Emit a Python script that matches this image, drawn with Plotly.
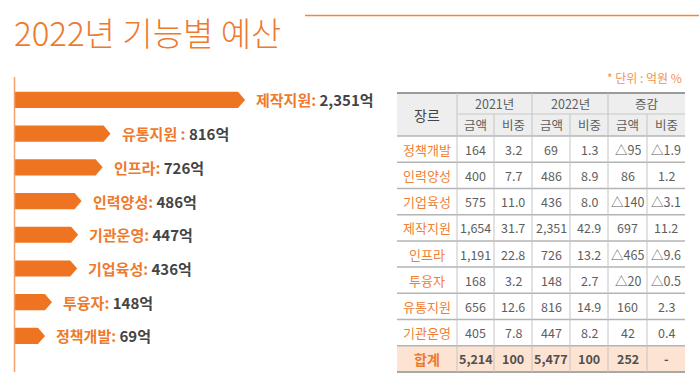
import plotly.graph_objects as go

W_PX, H_PX = 699, 383

# ---------------- data ----------------
title_text = "2022년 기능별 예산"
categories = ["제작지원", "유통지원", "인프라", "인력양성", "기관운영", "기업육성", "투융자", "정책개발"]
values = [2351, 816, 726, 486, 447, 436, 148, 69]
separators = [": ", " : ", ": ", ": ", ": ", ": ", ": ", ": "]
unit_suffix = "억"

unit_note = "* 단위 : 억원 %"
header_genre = "장르"
header_years = ["2021년", "2022년", "증감"]
header_sub = ["금액", "비중"]
table_rows = ["정책개발", "인력양성", "기업육성", "제작지원", "인프라", "투융자", "유통지원", "기관운영"]
amt_2021 = [164, 400, 575, 1654, 1191, 168, 656, 405]
share_2021 = [3.2, 7.7, 11.0, 31.7, 22.8, 3.2, 12.6, 7.8]
amt_2022 = [69, 486, 436, 2351, 726, 148, 816, 447]
share_2022 = [1.3, 8.9, 8.0, 42.9, 13.2, 2.7, 14.9, 8.2]
chg_amt = [-95, 86, -140, 697, -465, -20, 160, 42]
chg_share = [-1.9, 1.2, -3.1, 11.2, -9.6, -0.5, 2.3, 0.4]
total_label = "합계"
totals = ["5,214", "100", "5,477", "100", "252", "-"]

# ---------------- styles ----------------
ORANGE = "#EE7421"
ORANGE_TXT = "#EE7A2D"
ORANGE_LIGHT = "#F3A26C"
GREY_TXT = "#5E5E5E"
DARK_TXT = "#444444"
FONT = "Noto Sans CJK KR"


def px_x(p):
    return p / W_PX


def px_y(p):
    return 1 - p / H_PX


fig = go.Figure()

# ---------------- left: arrow bars ----------------
x_min, x_max = -285, 3000
plot_left, plot_right = 14, 302
tip_units = 80
half_h = 0.24

for i, v in enumerate(values):
    xs = [x_min, v - tip_units, v, v - tip_units, x_min, x_min]
    ys = [i - half_h, i - half_h, i, i + half_h, i + half_h, i - half_h]
    fig.add_trace(go.Scatter(x=xs, y=ys, mode="lines", fill="toself",
                             fillcolor=ORANGE, line=dict(width=0, color=ORANGE),
                             hoverinfo="skip", showlegend=False,
                             xaxis="x", yaxis="y"))

for i, (c, v, s) in enumerate(zip(categories, values, separators)):
    fig.add_annotation(
        x=v, y=i, xref="x", yref="y", xanchor="left", yanchor="middle",
        xshift=9, showarrow=False,
        text=f"<b><span style='color:{ORANGE_TXT}'>{c}{s}</span>{v:,}{unit_suffix}</b>",
        font=dict(family=FONT, size=15, color=DARK_TXT))

fig.update_layout(
    xaxis=dict(domain=[px_x(plot_left), px_x(plot_right)], range=[x_min, x_max],
               visible=False, fixedrange=True),
    yaxis=dict(domain=[px_y(372), px_y(77)], range=[8.07, -0.68],
               visible=False, fixedrange=True),
)

shapes = []
# vertical baseline
shapes.append(dict(type="line", xref="paper", yref="paper",
                   x0=px_x(14.5), x1=px_x(14.5), y0=px_y(77), y1=px_y(372),
                   line=dict(color=ORANGE_LIGHT, width=1.5)))
# top right rule
shapes.append(dict(type="line", xref="paper", yref="paper",
                   x0=px_x(305), x1=1, y0=px_y(15.5), y1=px_y(15.5),
                   line=dict(color="#EF8A3C", width=1.5)))

# ---------------- title ----------------
fig.add_annotation(x=px_x(12), y=px_y(32), xref="paper", yref="paper",
                   xanchor="left", yanchor="middle", showarrow=False,
                   text=title_text,
                   font=dict(family=FONT, size=33, color="#EE7A2D", weight=300))

# ---------------- table ----------------
col_edges = [397, 457, 494, 532, 570, 608, 647, 685]
hdr_top, hdr_mid, hdr_bot = 93, 114, 136
row_h = (372 - hdr_bot) / 9
row_edges = [hdr_bot + row_h * k for k in range(10)]

# backgrounds
shapes.append(dict(type="rect", xref="paper", yref="paper", layer="below",
                   x0=px_x(col_edges[0]), x1=px_x(col_edges[-1]),
                   y0=px_y(hdr_bot), y1=px_y(hdr_top),
                   fillcolor="#EEEEEE", line=dict(width=0)))
shapes.append(dict(type="rect", xref="paper", yref="paper", layer="below",
                   x0=px_x(col_edges[0]), x1=px_x(col_edges[-1]),
                   y0=px_y(row_edges[-1]), y1=px_y(row_edges[-2]),
                   fillcolor="#FCE3D2", line=dict(width=0)))


def hline(y, x0, x1, color, width):
    shapes.append(dict(type="line", xref="paper", yref="paper",
                       x0=px_x(x0), x1=px_x(x1), y0=px_y(y), y1=px_y(y),
                       line=dict(color=color, width=width)))


def vline(x, y0, y1, color, width):
    shapes.append(dict(type="line", xref="paper", yref="paper",
                       x0=px_x(x), x1=px_x(x), y0=px_y(y0), y1=px_y(y1),
                       line=dict(color=color, width=width)))


L, R = col_edges[0], col_edges[-1]
hline(hdr_top, L, R, "#9A9A9A", 2)
hline(hdr_mid, col_edges[1], R, "#C8C8C8", 1)
for y in row_edges[:-1]:
    hline(y, L, R, "#B4B4B4", 1.5)
hline(row_edges[-1], L, R, "#A8A8A8", 2)
for k in (1, 3, 5):
    vline(col_edges[k], hdr_top, row_edges[-1], "#C4C4C4", 1)
for k in (2, 4, 6):
    vline(col_edges[k], hdr_mid, row_edges[-1], "#C4C4C4", 1)


def cell_text(xc, yc, text, size, color, bold=False, weight=None):
    if bold:
        text = f"<b>{text}</b>"
    f = dict(family=FONT, size=size, color=color)
    if weight:
        f["weight"] = weight
    fig.add_annotation(x=px_x(xc), y=px_y(yc), xref="paper", yref="paper",
                       xanchor="center", yanchor="middle", showarrow=False,
                       text=text, font=f)


# unit note
fig.add_annotation(x=px_x(684), y=px_y(77), xref="paper", yref="paper",
                   xanchor="right", yanchor="middle", showarrow=False,
                   text=unit_note, font=dict(family=FONT, size=12, color="#F0934F"))

# header
cell_text((col_edges[0] + col_edges[1]) / 2, (hdr_top + hdr_bot) / 2, header_genre, 14, DARK_TXT)
for j, hy in enumerate(header_years):
    xc = (col_edges[1 + 2 * j] + col_edges[3 + 2 * j]) / 2
    cell_text(xc, (hdr_top + hdr_mid) / 2, hy, 12.5, GREY_TXT)
    for s, sub in enumerate(header_sub):
        xs = (col_edges[1 + 2 * j + s] + col_edges[2 + 2 * j + s]) / 2
        cell_text(xs, (hdr_mid + hdr_bot) / 2, sub, 12.5, GREY_TXT)


def fmt_amt(v):
    return ("△" if v < 0 else "") + f"{abs(v):,}"


def fmt_share(v):
    return ("△" if v < 0 else "") + f"{abs(v):.1f}"


for r, name in enumerate(table_rows):
    yc = (row_edges[r] + row_edges[r + 1]) / 2
    cell_text((col_edges[0] + col_edges[1]) / 2, yc, name, 13, "#EF7F35")
    vals = [fmt_amt(amt_2021[r]), fmt_share(share_2021[r]),
            fmt_amt(amt_2022[r]), fmt_share(share_2022[r]),
            fmt_amt(chg_amt[r]), fmt_share(chg_share[r])]
    for c, t in enumerate(vals):
        cell_text((col_edges[c + 1] + col_edges[c + 2]) / 2, yc, t, 12.5, GREY_TXT)

yc = (row_edges[-2] + row_edges[-1]) / 2
cell_text((col_edges[0] + col_edges[1]) / 2, yc, total_label, 14, "#EE7A2D", bold=True)
for c, t in enumerate(totals):
    cell_text((col_edges[c + 1] + col_edges[c + 2]) / 2, yc, t, 12.5, "#505050", bold=True)

fig.update_layout(
    width=W_PX, height=H_PX,
    margin=dict(l=0, r=0, t=0, b=0),
    paper_bgcolor="white", plot_bgcolor="rgba(0,0,0,0)",
    shapes=shapes, showlegend=False,
    font=dict(family=FONT),
)

fig.write_html("out.html",
               config={"displayModeBar": False, "staticPlot": True},
               post_script="document.body.style.margin='0';document.body.style.overflow='hidden';")
